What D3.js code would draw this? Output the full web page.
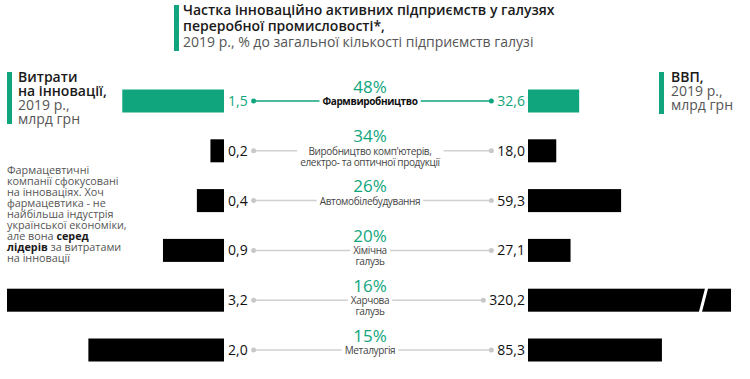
<!DOCTYPE html>
<html><head><meta charset="utf-8">
<script src="https://cdn.jsdelivr.net/npm/d3@7"></script>
<style>
html,body{margin:0;padding:0;background:#fff;}
svg{display:block;font-family:"Open Sans",sans-serif;}
</style></head>
<body>
<svg id="c" width="750" height="379"></svg>
<script>
const categories = [
  ["Фармвиробництво"],
  ["Виробництво комп'ютерів,", "електро- та оптичної продукції"],
  ["Автомобілебудування"],
  ["Хімічна", "галузь"],
  ["Харчова", "галузь"],
  ["Металургія"]
];
const shares = [48, 34, 26, 20, 16, 15];
const innovation = [1.5, 0.2, 0.4, 0.9, 3.2, 2.0];
const gva = [32.6, 18.0, 59.3, 27.1, 320.2, 85.3];
const highlight = [true, false, false, false, false, false];

const titleLines = ["Частка інноваційно активних підприємств у галузях", "переробної промисловості*,"];
const subtitle = "2019 р., % до загальної кількості підприємств галузі";
const leftHeadBold = ["Витрати", "на інновації,"];
const leftHeadReg = ["2019 р.,", "млрд грн"];
const rightHeadBold = ["ВВП,"];
const rightHeadReg = ["2019 р.,", "млрд грн"];
const noteLines = [
  [["Фармацевтичні", false]],
  [["компанії сфокусовані", false]],
  [["на інноваціях. Хоч", false]],
  [["фармацевтика - не", false]],
  [["найбільша індустрія", false]],
  [["української економіки,", false]],
  [["але вона ", false], ["серед", true]],
  [["лідерів", true], [" за витратами", false]],
  [["на інновації", false]]
];

const GREEN = "#10a57d";
const svg = d3.select("#c");
const fmt = v => d3.format(".1f")(v).replace(".", ",");

// Title
svg.append("rect").attr("x", 174).attr("y", 5).attr("width", 5).attr("height", 46).attr("fill", GREEN);
titleLines.forEach((t, i) => svg.append("text").attr("x", 183).attr("y", 15 + i * 16)
  .attr("font-size", 14).attr("font-weight", 600).attr("fill", "#1a1a1a").text(t));
svg.append("text").attr("x", 183).attr("y", 47).attr("font-size", 14).attr("fill", "#555").text(subtitle);

// Left header
svg.append("rect").attr("x", 7).attr("y", 72).attr("width", 5).attr("height", 52).attr("fill", GREEN);
leftHeadBold.concat(leftHeadReg).forEach((t, i) => svg.append("text").attr("x", 18).attr("y", 82 + i * 14)
  .attr("font-size", 14).attr("font-weight", i < leftHeadBold.length ? 600 : 400)
  .attr("fill", i < leftHeadBold.length ? "#1a1a1a" : "#555").text(t));

// Right header
svg.append("rect").attr("x", 659).attr("y", 72).attr("width", 5).attr("height", 42).attr("fill", GREEN);
rightHeadBold.concat(rightHeadReg).forEach((t, i) => svg.append("text").attr("x", 671).attr("y", 82 + i * 14)
  .attr("font-size", 14).attr("font-weight", i < rightHeadBold.length ? 600 : 400)
  .attr("fill", i < rightHeadBold.length ? "#1a1a1a" : "#555").text(t));

// Note
noteLines.forEach((parts, i) => {
  const t = svg.append("text").attr("x", 7).attr("y", 174 + i * 11).attr("font-size", 10.8).attr("fill", "#555");
  parts.forEach(p => t.append("tspan").attr("font-weight", p[1] ? 700 : 400).attr("fill", p[1] ? "#1a1a1a" : "#555").text(p[0]));
});

// Scales
const idx = d3.range(categories.length);
const y = d3.scalePoint().domain(idx).range([94, 343]);
const xL = d3.scaleLinear().domain([0, 3.2]).range([224, 7]);
const rMax = 129.3;
const xR = d3.scaleLinear().domain([0, rMax]).range([528, 731]).clamp(true);
const cx = 370, barH = 23, off = 7;

const rows = svg.selectAll("g.row").data(idx).join("g").attr("class", "row")
  .attr("transform", i => `translate(0,${y(i) + off})`);

rows.append("rect").attr("x", i => xL(innovation[i])).attr("y", -barH / 2)
  .attr("width", i => xL(0) - xL(innovation[i])).attr("height", barH)
  .attr("fill", i => highlight[i] ? GREEN : "#000");
rows.append("rect").attr("x", xR(0)).attr("y", -barH / 2)
  .attr("width", i => xR(gva[i]) - xR(0)).attr("height", barH)
  .attr("fill", i => highlight[i] ? GREEN : "#000");
// break mark for truncated bars
rows.filter(i => gva[i] > rMax).append("line")
  .attr("x1", 707).attr("y1", -barH / 2 - 2).attr("x2", 700).attr("y2", barH / 2 + 2)
  .attr("stroke", "#fff").attr("stroke-width", 3);

rows.each(function(i) {
  const g = d3.select(this);
  const col = highlight[i] ? GREEN : "#c8c8c8";
  const lt = g.append("text").attr("x", 228).attr("y", 5).attr("font-size", 14)
    .attr("fill", highlight[i] ? GREEN : "#111").text(fmt(innovation[i]));
  const rt = g.append("text").attr("x", 525).attr("y", 5).attr("text-anchor", "end").attr("font-size", 14)
    .attr("fill", highlight[i] ? GREEN : "#111").text(fmt(gva[i]));
  const lb = lt.node().getBBox(), rb = rt.node().getBBox();
  const dL = lb.x + lb.width + 6, dR = rb.x - 6;
  g.insert("line", "text").attr("x1", dL).attr("x2", dR).attr("y1", 0).attr("y2", 0)
    .attr("stroke", highlight[i] ? GREEN : "#d0d0d0").attr("stroke-width", 1.5);
  g.append("circle").attr("cx", dL).attr("r", 2.5).attr("fill", col);
  g.append("circle").attr("cx", dR).attr("r", 2.5).attr("fill", col);

  const bg = g.append("rect").attr("fill", "#fff");
  const t = g.append("text").attr("text-anchor", "middle").attr("font-size", 10).attr("letter-spacing", -0.35)
    .attr("font-weight", highlight[i] ? 700 : 400).attr("fill", highlight[i] ? "#111" : "#444");
  categories[i].forEach((l, k) => t.append("tspan").attr("x", cx).attr("y", 4 + k * 11).text(l));
  const b = t.node().getBBox();
  bg.attr("x", b.x - 3).attr("y", b.y + 1).attr("width", b.width + 6).attr("height", b.height - 1);

  g.append("text").attr("x", cx).attr("y", -off - 1.5).attr("text-anchor", "middle").attr("font-size", 17)
    .attr("fill", GREEN).text(shares[i] + "%");
});
</script>
</body></html>
